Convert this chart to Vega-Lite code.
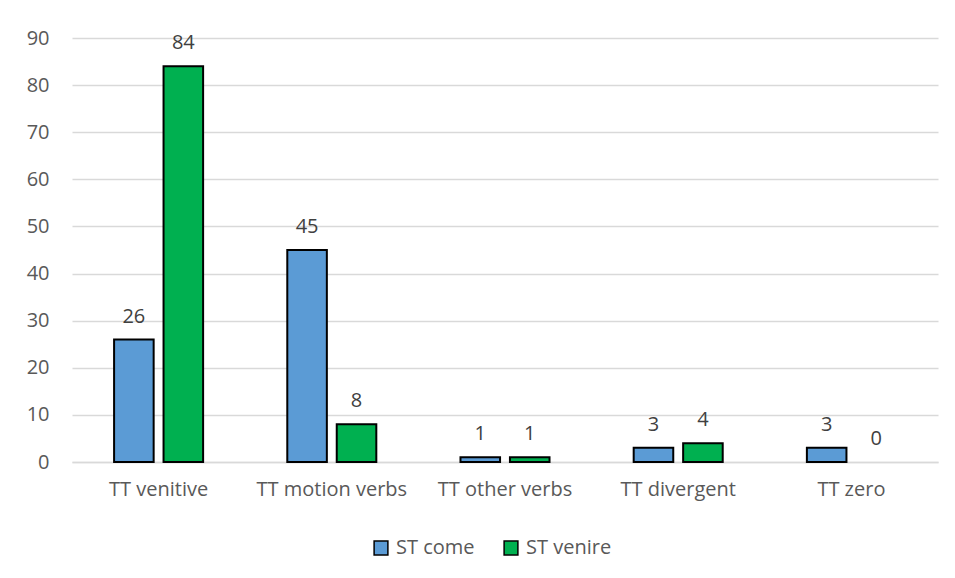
{
  "$schema": "https://vega.github.io/schema/vega-lite/v6.json",
  "width": 866,
  "height": 424,
  "autosize": {"type": "none"},
  "padding": {"left": 72, "top": 38, "right": 17, "bottom": 116},
  "background": "white",
  "config": {
    "view": {"stroke": null},
    "font": "Open Sans"
  },
  "data": {
    "values": [
      {"category": "TT venitive", "series": "ST come", "value": 26},
      {"category": "TT venitive", "series": "ST venire", "value": 84},
      {"category": "TT motion verbs", "series": "ST come", "value": 45},
      {"category": "TT motion verbs", "series": "ST venire", "value": 8},
      {"category": "TT other verbs", "series": "ST come", "value": 1},
      {"category": "TT other verbs", "series": "ST venire", "value": 1},
      {"category": "TT divergent", "series": "ST come", "value": 3},
      {"category": "TT divergent", "series": "ST venire", "value": 4},
      {"category": "TT zero", "series": "ST come", "value": 3},
      {"category": "TT zero", "series": "ST venire", "value": 0}
    ]
  },
  "encoding": {
    "x": {
      "field": "category", "type": "nominal", "sort": null,
      "scale": {"paddingInner": 0.486, "paddingOuter": 0.243},
      "axis": {"title": null, "labelAngle": 0, "ticks": false, "domainColor": "#d9d9d9", "domainWidth": 1.5, "labelPadding": 17, "labelFont": "Open Sans", "labelFontSize": 20, "labelColor": "#595959"}
    },
    "xOffset": {"field": "series", "type": "nominal", "scale": {"paddingInner": 0.2, "paddingOuter": 0}},
    "y": {
      "field": "value", "type": "quantitative",
      "scale": {"domain": [0, 90]},
      "axis": {"title": null, "values": [0,10,20,30,40,50,60,70,80,90], "ticks": false, "domain": false, "gridColor": "#d9d9d9", "gridWidth": 1.5, "labelPadding": 23, "labelFont": "Open Sans", "labelFontSize": 20, "labelColor": "#595959"}
    }
  },
  "layer": [
    {
      "transform": [{"filter": "datum.value > 0"}],
      "mark": {"type": "bar", "stroke": "black", "strokeWidth": 2},
      "encoding": {
        "color": {
          "field": "series", "type": "nominal",
          "scale": {"domain": ["ST come", "ST venire"], "range": ["#5b9bd5", "#00b050"]},
          "legend": {"title": null, "orient": "none", "direction": "horizontal", "legendX": 299, "legendY": 500, "symbolType": "square", "symbolSize": 190, "symbolStrokeColor": "black", "symbolStrokeWidth": 1.5, "symbolOpacity": 1, "labelOffset": 5, "columnPadding": 26, "labelFont": "Open Sans", "labelFontSize": 20, "labelColor": "#595959"}
        }
      }
    },
    {
      "mark": {"type": "text", "baseline": "alphabetic", "dy": -17, "fontSize": 20, "color": "#404040", "font": "Open Sans"},
      "encoding": {"text": {"field": "value", "type": "quantitative"}}
    }
  ]
}
